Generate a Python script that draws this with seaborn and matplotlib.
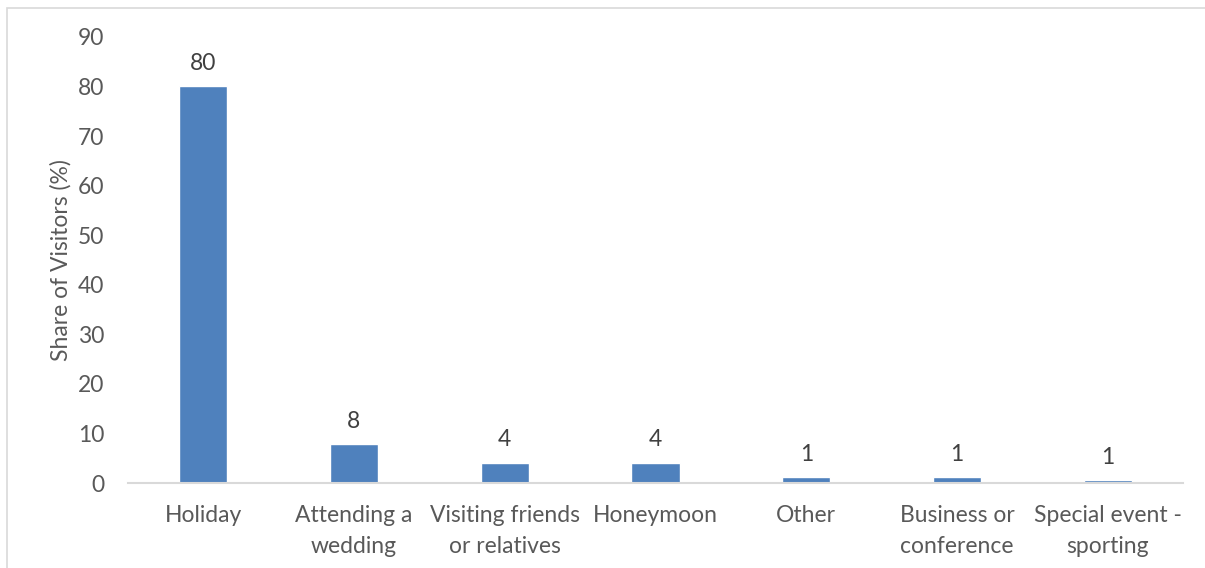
import matplotlib
matplotlib.use("Agg")
import matplotlib.pyplot as plt
import seaborn as sns
import pandas as pd
from matplotlib.patches import Rectangle

categories = ["Holiday", "Attending a\nwedding", "Visiting friends\nor relatives",
              "Honeymoon", "Other", "Business or\nconference", "Special event -\nsporting"]
shares = [80, 7.8, 4.1, 4.1, 1.2, 1.15, 0.55]
yticks = [0, 10, 20, 30, 40, 50, 60, 70, 80, 90]

df = pd.DataFrame({"purpose": categories, "share": shares})

sns.set_theme(style="white")
plt.rcParams["font.family"] = ["Lato", "DejaVu Sans"]

text_color = "#595959"
bar_color = "#4f81bd"
fs = 16.5

fig = plt.figure(figsize=(12.05, 5.68), dpi=100)
ax = fig.add_axes([0.106, 0.1496, 0.876, 0.7854])

sns.barplot(data=df, x="purpose", y="share", color=bar_color, width=0.32,
            saturation=1, ax=ax)

for c in ax.containers:
    ax.bar_label(c, fmt="%.0f", padding=9, fontsize=fs, color="#404040")

ax.set_ylim(0, 90)
ax.set_yticks(yticks)
ax.set_xlim(-0.5, len(categories) - 0.5)
ax.set_xlabel("")
ax.set_ylabel("Share of Visitors (%)", fontsize=fs, color=text_color, labelpad=4)
ax.tick_params(axis="both", labelsize=fs, colors=text_color, length=0)
ax.tick_params(axis="x", pad=16)
ax.tick_params(axis="y", pad=17)
for lbl in ax.get_xticklabels():
    lbl.set_linespacing(1.6)

for side in ["top", "right", "left"]:
    ax.spines[side].set_visible(False)
ax.spines["bottom"].set_color("#d9d9d9")
ax.spines["bottom"].set_linewidth(1.5)

# light outer frame of the chart area
fig.patches.append(Rectangle((7 / 1205, -0.1), 1.2, (568 - 8) / 568 + 0.1,
                             transform=fig.transFigure, fill=False,
                             edgecolor="#d9d9d9", linewidth=1.2))

fig.savefig("out.png", dpi=100)
